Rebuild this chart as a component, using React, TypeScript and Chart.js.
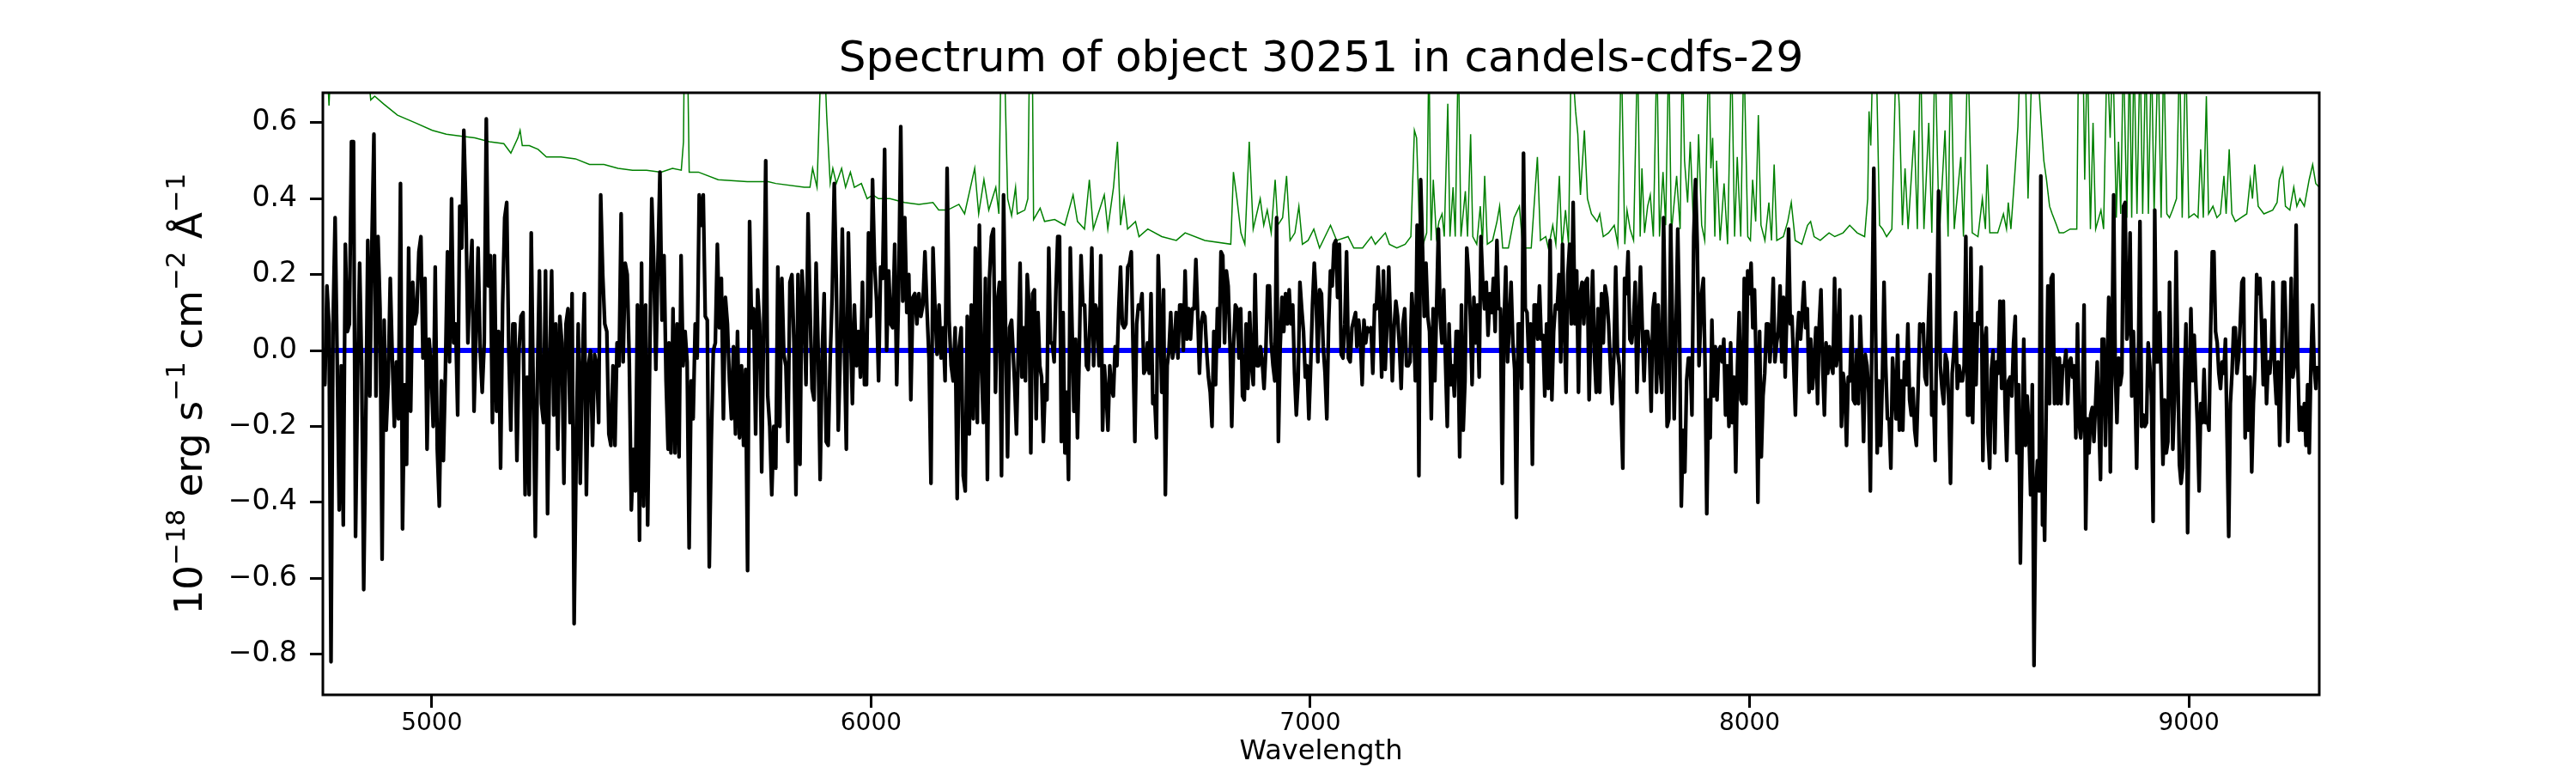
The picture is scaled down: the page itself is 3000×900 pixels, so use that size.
import { useEffect, useRef } from "react"
import { Chart, registerables } from "chart.js"

Chart.register(...registerables)

const TITLE = "Spectrum of object 30251 in candels-cdfs-29"
const X_LABEL = "Wavelength"
// [text, superscript?]
const Y_LABEL_PARTS: [string, boolean][] = [
  ["10", false], ["−18", true], [" erg s", false], ["−1", true],
  [" cm", false], ["−2", true], [" Å", false], ["−1", true],
]

const X_MIN = 4752
const X_MAX = 9297
const Y_MIN = -0.907
const Y_MAX = 0.679
const X_TICKS = [5000, 6000, 7000, 8000, 9000]
const Y_TICKS = [-0.8, -0.6, -0.4, -0.2, 0, 0.2, 0.4, 0.6]

// observed flux, read in six stretches of wavelength (evenly sampled inside each)
const FLUX_RANGES = [[4752, 5538], [5540, 6320], [6327, 7103], [7106, 7885], [7891, 8667], [8668, 9293]]

const FLUX_1 = [-0.02, -0.09, 0.17, 0.07, -0.82, 0.07, 0.35, -0.02, -0.42, -0.04, -0.46, 0.28, 0.05, 0.07, 0.55, 0.55, -0.49, -0.08, 0.23, -0.04, -0.63, -0.20, 0.29, -0.12, 0.28, 0.57, -0.12, 0.30, 0.11, -0.55, 0.08, -0.21, -0.08, 0.19, -0.02, -0.20, -0.03, -0.18, 0.44, -0.47, -0.09, -0.30, 0.27, -0.16, 0.18, 0.07, 0.10, 0.26, 0.30, -0.02, 0.19, -0.26, 0.03, -0.04, -0.20, 0.22, -0.26, -0.41, -0.08, -0.29, -0.05, 0.26, -0.03, 0.40, 0.02, 0.07, -0.17, 0.38, 0.27, 0.58, 0.38, 0.02, 0.18, 0.29, -0.16, 0.05, 0.27, 0.00, -0.11, 0.02, 0.61, 0.17, 0.25, -0.19, 0.25, -0.16, 0.05, -0.31, 0.12, 0.35, 0.39, 0.00, -0.21, 0.07, 0.07, -0.29, 0.00, 0.09, 0.10, -0.38, -0.07, -0.38, 0.31, -0.10, -0.49, -0.08, 0.21, -0.14, -0.19, 0.21, -0.43, -0.04, 0.21, -0.17, 0.07, -0.26, 0.09, 0.02, -0.35, 0.07, 0.11, -0.19, 0.15, -0.72, -0.28, 0.07, -0.35, -0.04, 0.15, -0.38, -0.04, 0.00, -0.25, -0.01, -0.04, -0.19, 0.41, 0.20, 0.07, 0.05, -0.22, -0.25, -0.04, -0.25, 0.02, -0.04, 0.36, -0.03, 0.23, 0.20, -0.03, -0.42, -0.26, -0.37, 0.12, -0.50, 0.23, -0.41, 0.12, -0.46, -0.03, 0.40, 0.23, -0.05, 0.23, 0.47, 0.08, 0.25, -0.08, -0.26]

const FLUX_2 = [0.02, -0.27, 0.11, -0.27, 0.07, -0.28, 0.25, -0.04, 0.05, -0.03, -0.52, -0.08, -0.18, 0.07, -0.02, 0.41, 0.33, 0.41, 0.09, 0.08, -0.57, -0.24, 0.00, 0.02, 0.28, 0.06, 0.19, -0.18, 0.14, 0.07, -0.08, -0.18, 0.01, -0.22, 0.05, -0.23, -0.04, -0.25, -0.05, -0.58, 0.34, 0.06, 0.11, -0.22, 0.16, 0.07, -0.32, 0.07, 0.50, -0.12, -0.20, -0.38, -0.20, -0.31, 0.22, -0.20, 0.19, -0.01, -0.04, -0.24, 0.18, 0.20, 0.02, -0.38, 0.20, -0.30, 0.21, 0.11, -0.09, 0.36, 0.11, -0.10, -0.13, 0.23, 0.01, -0.34, -0.01, 0.15, -0.24, -0.25, -0.02, 0.15, 0.44, 0.19, -0.21, -0.01, 0.32, 0.02, -0.26, 0.31, 0.07, -0.14, 0.12, -0.04, 0.05, -0.07, 0.18, -0.09, -0.09, 0.31, 0.09, 0.45, 0.23, 0.13, -0.08, 0.22, 0.19, 0.53, 0.00, 0.21, 0.07, 0.06, 0.28, -0.09, 0.17, 0.59, 0.13, 0.35, 0.10, 0.20, -0.13, 0.14, 0.15, 0.07, 0.15, 0.09, 0.12, 0.26, 0.11, -0.02, -0.35, 0.27, 0.11, -0.01, 0.12, -0.02, 0.06, -0.08, 0.48, 0.08, -0.04, -0.08, 0.06, -0.39, 0.01, 0.06, -0.33, -0.37, 0.09, -0.22, 0.12, -0.18, 0.27, -0.19, 0.33, -0.04, -0.19, 0.19, -0.34, 0.19, 0.30, 0.32, -0.11, 0.13, 0.18, -0.33, 0.41, 0.06, -0.28, 0.06, 0.08]

const FLUX_3 = [-0.09, -0.22, 0.00, 0.23, -0.07, 0.06, -0.08, 0.20, 0.12, -0.27, 0.15, 0.16, -0.18, 0.10, -0.04, -0.07, -0.24, -0.09, -0.13, 0.27, 0.02, 0.02, -0.03, 0.16, 0.30, 0.30, -0.24, 0.10, -0.27, -0.11, -0.34, 0.27, 0.06, -0.16, 0.03, -0.23, -0.01, 0.25, 0.12, 0.12, -0.04, -0.05, 0.08, 0.27, -0.04, 0.12, 0.10, -0.04, 0.25, -0.21, -0.04, -0.11, -0.21, -0.04, -0.10, -0.12, 0.01, -0.04, 0.11, 0.22, 0.07, 0.06, 0.07, 0.22, 0.23, 0.26, 0.00, -0.24, 0.07, 0.12, 0.11, 0.15, -0.06, -0.05, 0.02, -0.06, 0.15, -0.14, -0.12, -0.23, 0.25, 0.09, -0.11, 0.16, -0.38, -0.04, 0.00, 0.10, -0.02, 0.01, 0.10, -0.02, 0.12, 0.12, 0.00, 0.21, 0.03, 0.11, 0.03, 0.11, 0.11, 0.24, 0.10, -0.06, 0.07, 0.10, 0.09, 0.00, -0.07, -0.11, -0.20, 0.05, -0.09, 0.11, 0.01, 0.26, 0.25, 0.02, 0.21, 0.17, 0.02, -0.20, 0.01, 0.12, 0.11, -0.02, 0.11, -0.12, -0.13, 0.07, -0.10, 0.10, -0.04, -0.09, 0.20, -0.04, -0.04, 0.01, -0.03, -0.10, 0.00, 0.17, 0.17, 0.02, -0.04, -0.08, 0.35, -0.24, 0.01, 0.14, 0.05, 0.15, 0.07, 0.16, 0.07, 0.12, -0.06, -0.17, -0.08, 0.18, 0.11, 0.05, -0.07, -0.04, -0.18, -0.04, 0.12, 0.23, 0.14, -0.03, 0.16, 0.15, 0.01, -0.06, -0.18, 0.07, 0.21, 0.17, 0.28, 0.29, 0.14, 0.28, -0.01, -0.02, 0.07, 0.26, -0.02, -0.03, 0.06, 0.08, 0.10]

const FLUX_4 = [0.01, 0.08, 0.03, -0.09, 0.08, 0.02, 0.06, 0.05, 0.06, -0.06, 0.12, 0.11, 0.22, 0.10, -0.07, 0.21, -0.05, 0.07, 0.22, 0.07, -0.08, 0.06, 0.13, 0.09, 0.01, -0.10, 0.07, 0.11, -0.04, -0.04, -0.03, 0.15, 0.07, -0.08, 0.33, -0.33, 0.45, 0.28, 0.09, 0.23, 0.09, 0.05, -0.18, 0.11, -0.08, 0.12, 0.32, 0.09, 0.02, 0.16, -0.03, -0.20, 0.07, -0.09, -0.04, -0.12, 0.05, 0.05, -0.28, 0.12, -0.21, -0.08, 0.27, 0.20, 0.09, -0.09, 0.14, 0.02, 0.12, -0.07, 0.30, 0.18, 0.11, 0.18, 0.04, 0.15, 0.10, 0.19, 0.05, 0.29, 0.11, 0.11, -0.35, 0.07, 0.22, -0.03, 0.07, 0.18, 0.02, -0.05, -0.44, 0.07, 0.07, -0.10, 0.52, 0.11, 0.10, -0.03, 0.07, -0.30, 0.12, 0.12, 0.03, 0.17, 0.03, 0.04, -0.12, 0.07, -0.10, 0.29, -0.13, 0.05, 0.12, 0.11, 0.20, -0.03, 0.28, 0.07, -0.11, 0.20, 0.28, 0.07, 0.39, 0.07, 0.21, -0.11, 0.15, 0.18, 0.07, 0.18, 0.19, -0.13, 0.07, 0.21, -0.01, -0.11, 0.11, -0.11, 0.15, 0.02, 0.17, 0.14, 0.07, -0.04, -0.14, -0.01, 0.22, 0.00, -0.04, -0.15, -0.31, 0.19, 0.15, 0.26, 0.03, 0.02, 0.07, 0.18, -0.11, 0.07, 0.22, 0.06, -0.08, 0.05, 0.05, 0.01, -0.16, 0.11, 0.15, -0.11, 0.12, -0.04, -0.11, 0.35, 0.07, -0.20, -0.18, 0.33, 0.08, -0.18, 0.05, 0.32, 0.07, -0.41, -0.21, -0.32, -0.08, -0.02, -0.02, -0.17, 0.30, 0.45, 0.28, -0.04]

const FLUX_5 = [0.15, 0.19, -0.04, -0.43, -0.13, -0.23, 0.08, -0.12, 0.01, -0.13, 0.00, 0.01, -0.03, 0.03, -0.17, -0.04, -0.20, 0.02, -0.19, -0.07, -0.32, -0.04, 0.10, -0.13, -0.14, 0.19, -0.14, 0.21, 0.15, 0.23, 0.06, 0.16, -0.04, -0.40, 0.05, -0.28, -0.12, -0.06, 0.07, 0.07, -0.03, 0.05, 0.19, -0.03, 0.02, 0.05, 0.17, -0.03, 0.14, -0.07, 0.11, 0.32, 0.07, 0.09, -0.04, -0.17, 0.03, 0.10, 0.03, 0.10, 0.18, 0.06, 0.11, -0.11, 0.03, -0.10, -0.04, 0.06, -0.14, 0.07, 0.16, -0.04, -0.17, 0.02, -0.06, 0.01, -0.04, -0.06, 0.19, -0.04, 0.00, 0.16, -0.20, -0.06, -0.10, -0.25, -0.07, -0.08, 0.09, -0.13, -0.14, 0.00, -0.14, 0.09, -0.04, -0.24, -0.01, -0.04, -0.11, -0.37, 0.11, 0.48, 0.07, -0.27, -0.08, -0.25, -0.08, 0.18, -0.04, -0.18, -0.18, -0.31, -0.02, -0.10, -0.18, 0.04, -0.21, -0.08, -0.21, -0.03, -0.09, 0.07, -0.13, -0.17, -0.10, -0.21, -0.25, -0.10, 0.07, 0.05, 0.07, -0.07, -0.09, 0.07, 0.20, -0.17, -0.11, -0.29, 0.11, 0.42, -0.04, -0.10, -0.14, -0.01, -0.03, -0.14, -0.35, -0.06, 0.00, 0.10, -0.10, -0.04, -0.08, -0.08, -0.04, 0.30, -0.17, -0.17, 0.27, -0.19, 0.07, -0.09, 0.10, 0.07, 0.22, -0.29, 0.02, 0.06, -0.22, -0.31, -0.05, 0.00, -0.27, -0.03, -0.06, 0.13, -0.10, 0.13, -0.14, -0.29, -0.08, -0.07, -0.12, 0.02, 0.09, -0.27, -0.09, -0.56, -0.24, 0.03, -0.25, -0.12, -0.21, -0.38, -0.09, -0.83, -0.38, -0.29, -0.37, 0.46, -0.46]

const FLUX_6 = [-0.25, -0.50, -0.14, 0.17, -0.14, 0.19, 0.20, -0.14, -0.02, -0.14, -0.02, -0.14, -0.04, -0.04, 0.00, -0.14, -0.03, -0.02, -0.07, -0.04, -0.23, 0.07, -0.19, -0.23, -0.17, 0.12, -0.47, -0.18, -0.27, -0.17, -0.15, -0.24, -0.14, -0.03, -0.18, -0.34, 0.03, 0.03, -0.25, -0.06, 0.14, -0.32, 0.00, 0.41, -0.06, -0.19, -0.02, -0.09, -0.06, 0.38, 0.39, 0.03, 0.06, 0.31, -0.12, 0.05, -0.10, -0.31, -0.04, 0.34, -0.20, -0.17, -0.20, -0.19, 0.02, -0.04, -0.12, -0.45, 0.37, -0.03, -0.03, 0.10, -0.10, -0.30, -0.13, -0.27, -0.24, 0.18, -0.04, -0.26, -0.13, 0.26, -0.04, -0.30, -0.35, -0.31, -0.09, 0.07, -0.48, -0.10, 0.11, -0.08, 0.04, -0.09, -0.20, -0.37, -0.14, -0.19, -0.05, -0.19, -0.18, -0.21, 0.05, 0.26, 0.26, 0.05, 0.02, -0.06, -0.10, -0.03, -0.06, 0.03, -0.23, -0.49, -0.14, -0.06, 0.06, 0.06, -0.06, -0.02, 0.07, 0.18, 0.19, -0.23, -0.07, -0.21, -0.07, -0.32, -0.14, -0.05, 0.20, 0.15, 0.19, 0.07, -0.09, 0.08, -0.14, -0.03, -0.06, 0.00, 0.18, -0.06, -0.14, -0.03, -0.25, -0.07, 0.18, 0.18, 0.03, -0.24, -0.05, 0.19, -0.07, -0.04, 0.33, -0.03, -0.21, -0.15, -0.21, -0.14, -0.25, -0.09, -0.27, -0.04, 0.12, -0.04, -0.10, -0.04]

const FLUX_SEGMENTS = [FLUX_1, FLUX_2, FLUX_3, FLUX_4, FLUX_5, FLUX_6]

// noise / sky spectrum (green); 0.8 marks sky lines that run off the top
const NOISE_WAVE = [4752, 4762, 4766, 4770, 4854, 4861, 4870, 4890, 4922, 4962, 5001, 5033, 5066, 5098, 5131, 5164, 5180, 5196, 5201, 5206, 5222, 5242, 5261, 5294, 5327, 5359, 5392, 5424, 5457, 5489, 5522, 5548, 5568, 5573, 5575, 5582, 5586, 5607, 5652, 5718, 5766, 5783, 5848, 5861, 5867, 5877, 5887, 5893, 5899, 5907, 5913, 5921, 5933, 5942, 5953, 5962, 5978, 5991, 6004, 6017, 6043, 6076, 6109, 6141, 6154, 6174, 6200, 6213, 6236, 6245, 6257, 6268, 6284, 6291, 6296, 6303, 6311, 6320, 6329, 6333, 6350, 6357, 6361, 6367, 6370, 6385, 6395, 6418, 6441, 6460, 6470, 6486, 6497, 6506, 6531, 6539, 6552, 6561, 6568, 6576, 6584, 6602, 6610, 6630, 6662, 6695, 6715, 6760, 6819, 6825, 6833, 6842, 6851, 6861, 6870, 6886, 6894, 6902, 6911, 6920, 6926, 6937, 6946, 6954, 6965, 6974, 6982, 6995, 7008, 7021, 7046, 7060, 7086, 7099, 7119, 7139, 7148, 7171, 7180, 7197, 7216, 7229, 7237, 7242, 7248, 7257, 7265, 7270, 7275, 7280, 7287, 7293, 7300, 7305, 7313, 7318, 7325, 7330, 7337, 7343, 7353, 7358, 7365, 7370, 7379, 7387, 7392, 7397, 7403, 7415, 7425, 7431, 7438, 7451, 7464, 7476, 7484, 7503, 7517, 7524, 7536, 7542, 7552, 7559, 7567, 7573, 7581, 7588, 7594, 7604, 7609, 7615, 7624, 7631, 7640, 7653, 7659, 7667, 7679, 7692, 7700, 7708, 7716, 7721, 7728, 7736, 7745, 7751, 7755, 7761, 7768, 7774, 7781, 7789, 7795, 7803, 7809, 7816, 7822, 7834, 7842, 7847, 7852, 7859, 7865, 7872, 7878, 7884, 7891, 7898, 7907, 7912, 7916, 7921, 7925, 7933, 7942, 7950, 7959, 7966, 7972, 7980, 7987, 7996, 8002, 8007, 8014, 8020, 8026, 8035, 8044, 8050, 8056, 8062, 8077, 8087, 8095, 8104, 8119, 8132, 8139, 8147, 8161, 8181, 8194, 8213, 8228, 8245, 8262, 8269, 8272, 8276, 8281, 8288, 8296, 8303, 8312, 8324, 8334, 8341, 8348, 8354, 8361, 8375, 8382, 8389, 8397, 8408, 8415, 8422, 8432, 8445, 8452, 8458, 8466, 8481, 8487, 8497, 8507, 8520, 8530, 8537, 8541, 8547, 8565, 8578, 8585, 8589, 8595, 8603, 8611, 8617, 8627, 8634, 8644, 8653, 8664, 8670, 8676, 8683, 8689, 8699, 8705, 8715, 8730, 8745, 8749, 8759, 8763, 8769, 8776, 8782, 8788, 8800, 8806, 8814, 8821, 8827, 8835, 8840, 8845, 8851, 8859, 8865, 8870, 8875, 8882, 8889, 8895, 8902, 8908, 8915, 8921, 8930, 8937, 8943, 8950, 8956, 8963, 8972, 8979, 8985, 8993, 9000, 9012, 9021, 9027, 9033, 9040, 9045, 9055, 9064, 9072, 9080, 9085, 9092, 9098, 9106, 9119, 9132, 9140, 9145, 9150, 9158, 9171, 9191, 9201, 9206, 9214, 9220, 9230, 9239, 9246, 9253, 9263, 9274, 9282, 9289, 9297]

const NOISE_FLUX = [0.75, 0.75, 0.645, 0.75, 0.75, 0.66, 0.67, 0.65, 0.62, 0.60, 0.58, 0.57, 0.565, 0.56, 0.55, 0.545, 0.52, 0.56, 0.58, 0.54, 0.54, 0.53, 0.51, 0.51, 0.505, 0.49, 0.49, 0.48, 0.475, 0.475, 0.47, 0.48, 0.475, 0.55, 0.8, 0.8, 0.47, 0.47, 0.45, 0.445, 0.445, 0.44, 0.43, 0.43, 0.48, 0.43, 0.8, 0.8, 0.62, 0.44, 0.48, 0.44, 0.48, 0.43, 0.47, 0.43, 0.44, 0.40, 0.41, 0.40, 0.40, 0.39, 0.385, 0.39, 0.37, 0.37, 0.385, 0.36, 0.48, 0.36, 0.45, 0.37, 0.43, 0.36, 0.8, 0.8, 0.40, 0.355, 0.43, 0.36, 0.37, 0.40, 0.8, 0.8, 0.345, 0.375, 0.34, 0.345, 0.33, 0.41, 0.34, 0.32, 0.45, 0.32, 0.41, 0.32, 0.43, 0.55, 0.33, 0.40, 0.32, 0.34, 0.30, 0.32, 0.30, 0.29, 0.31, 0.29, 0.28, 0.47, 0.40, 0.31, 0.28, 0.55, 0.32, 0.40, 0.33, 0.37, 0.31, 0.45, 0.33, 0.35, 0.46, 0.29, 0.31, 0.38, 0.28, 0.29, 0.32, 0.27, 0.33, 0.29, 0.30, 0.27, 0.27, 0.30, 0.28, 0.31, 0.28, 0.27, 0.28, 0.30, 0.58, 0.56, 0.34, 0.28, 0.31, 0.8, 0.29, 0.45, 0.30, 0.34, 0.36, 0.30, 0.65, 0.30, 0.43, 0.30, 0.8, 0.30, 0.42, 0.30, 0.57, 0.30, 0.28, 0.38, 0.28, 0.46, 0.28, 0.29, 0.34, 0.38, 0.27, 0.27, 0.35, 0.38, 0.27, 0.27, 0.51, 0.29, 0.30, 0.27, 0.33, 0.28, 0.46, 0.27, 0.37, 0.28, 0.8, 0.63, 0.57, 0.41, 0.58, 0.40, 0.36, 0.34, 0.36, 0.30, 0.31, 0.33, 0.28, 0.8, 0.28, 0.37, 0.32, 0.29, 0.8, 0.30, 0.48, 0.31, 0.38, 0.41, 0.30, 0.8, 0.30, 0.47, 0.33, 0.8, 0.31, 0.46, 0.32, 0.8, 0.50, 0.39, 0.55, 0.34, 0.31, 0.57, 0.33, 0.29, 0.8, 0.48, 0.56, 0.30, 0.50, 0.29, 0.44, 0.28, 0.8, 0.30, 0.51, 0.30, 0.8, 0.30, 0.29, 0.45, 0.34, 0.62, 0.33, 0.29, 0.39, 0.29, 0.49, 0.29, 0.30, 0.34, 0.39, 0.29, 0.28, 0.33, 0.34, 0.30, 0.29, 0.31, 0.30, 0.31, 0.33, 0.31, 0.30, 0.40, 0.63, 0.54, 0.8, 0.8, 0.33, 0.32, 0.30, 0.32, 0.8, 0.64, 0.33, 0.48, 0.32, 0.58, 0.32, 0.8, 0.32, 0.60, 0.31, 0.8, 0.30, 0.58, 0.30, 0.8, 0.32, 0.51, 0.30, 0.8, 0.31, 0.30, 0.40, 0.32, 0.49, 0.31, 0.31, 0.36, 0.32, 0.39, 0.32, 0.45, 0.59, 0.8, 0.8, 0.40, 0.8, 0.8, 0.60, 0.50, 0.45, 0.38, 0.36, 0.33, 0.31, 0.31, 0.32, 0.32, 0.8, 0.8, 0.45, 0.8, 0.32, 0.60, 0.32, 0.37, 0.32, 0.8, 0.56, 0.8, 0.35, 0.55, 0.36, 0.8, 0.35, 0.8, 0.35, 0.8, 0.36, 0.8, 0.36, 0.8, 0.36, 0.8, 0.36, 0.8, 0.35, 0.8, 0.36, 0.35, 0.37, 0.40, 0.8, 0.35, 0.8, 0.35, 0.36, 0.35, 0.53, 0.35, 0.67, 0.36, 0.38, 0.35, 0.36, 0.46, 0.36, 0.53, 0.36, 0.34, 0.35, 0.36, 0.45, 0.40, 0.49, 0.38, 0.36, 0.37, 0.39, 0.45, 0.48, 0.38, 0.37, 0.43, 0.38, 0.40, 0.38, 0.45, 0.49, 0.44, 0.43]

// model continuum (blue)
const MODEL_WAVE = [4752, 9297]
const MODEL_FLUX = [0, 0]

const FONT = '"DejaVu Sans", "Noto Sans", sans-serif'

function fluxPoints() {
  const pts: { x: number; y: number }[] = []
  FLUX_SEGMENTS.forEach((seg, s) => {
    const [a, b] = FLUX_RANGES[s]
    seg.forEach((v, i) => pts.push({ x: a + (i * (b - a)) / (seg.length - 1), y: v }))
  })
  return pts
}

const frame = {
  id: "frame",
  afterDraw(chart: any) {
    const { ctx, chartArea: a } = chart
    const cx = (a.left + a.right) / 2
    ctx.save()
    ctx.strokeStyle = "#000"
    ctx.lineWidth = 3
    ctx.strokeRect(a.left, a.top, a.right - a.left, a.bottom - a.top)

    ctx.fillStyle = "#000"
    ctx.textAlign = "center"
    ctx.textBaseline = "alphabetic"
    ctx.font = `50px ${FONT}`
    ctx.fillText(TITLE, cx, a.top - 25)
    ctx.font = `32px ${FONT}`
    ctx.fillText(X_LABEL, cx, a.bottom + 75)

    // y label with superscripts, rotated
    const size = 45
    const supSize = Math.round(size * 0.7)
    ctx.translate(a.left - 141, (a.top + a.bottom) / 2)
    ctx.rotate(-Math.PI / 2)
    ctx.textAlign = "left"
    let total = 0
    const widths = Y_LABEL_PARTS.map(([t, sup]) => {
      ctx.font = `${sup ? supSize : size}px ${FONT}`
      const w = ctx.measureText(t).width
      total += w
      return w
    })
    let x = -total / 2
    Y_LABEL_PARTS.forEach(([t, sup], i) => {
      ctx.font = `${sup ? supSize : size}px ${FONT}`
      ctx.fillText(t, x, sup ? -20 : 0)
      x += widths[i]
    })
    ctx.restore()
  },
}

export default function App() {
  const canvasRef = useRef<HTMLCanvasElement>(null)

  useEffect(() => {
    document.body.style.margin = "0"
    if (!canvasRef.current) return

    const chart = new Chart(canvasRef.current, {
      type: "line",
      data: {
        datasets: [
          // first dataset is painted last, so the flux sits on top
          {
            data: fluxPoints(),
            borderColor: "#000000",
            borderWidth: 4.3,
            borderJoinStyle: "round",
            pointRadius: 0,
          },
          {
            data: MODEL_WAVE.map((x, i) => ({ x, y: MODEL_FLUX[i] })),
            borderColor: "#0000ff",
            borderWidth: 6,
            pointRadius: 0,
          },
          {
            data: NOISE_WAVE.map((x, i) => ({ x, y: NOISE_FLUX[i] })),
            borderColor: "#008000",
            borderWidth: 1.5,
            pointRadius: 0,
          },
        ],
      },
      options: {
        responsive: false,
        devicePixelRatio: 1,
        animation: false,
        events: [],
        layout: { padding: { top: 108, right: 299, left: 0, bottom: 0 } },
        plugins: { legend: { display: false }, tooltip: { enabled: false }, title: { display: false } },
        scales: {
          x: {
            type: "linear",
            min: X_MIN,
            max: X_MAX,
            afterFit: (s: any) => { s.height = 91 },
            afterBuildTicks: (s: any) => { s.ticks = X_TICKS.map((value) => ({ value })) },
            grid: { drawOnChartArea: false, tickLength: 15, tickWidth: 3, tickColor: "#000" },
            border: { display: false },
            ticks: {
              color: "#000",
              font: { family: FONT, size: 28 },
              padding: 2,
              maxRotation: 0,
              callback: (v: any) => String(v),
            },
          },
          y: {
            type: "linear",
            min: Y_MIN,
            max: Y_MAX,
            afterFit: (s: any) => { s.width = 376 },
            afterBuildTicks: (s: any) => { s.ticks = Y_TICKS.map((value) => ({ value })) },
            grid: { drawOnChartArea: false, tickLength: 15, tickWidth: 3, tickColor: "#000" },
            border: { display: false },
            ticks: {
              color: "#000",
              font: { family: FONT, size: 33 },
              padding: 15,
              callback: (v: any) => {
                const n = Number(v)
                const s = Math.abs(n).toFixed(1)
                return n < -1e-9 ? "−" + s : s
              },
            },
          },
        },
      },
      plugins: [frame],
    })

    return () => chart.destroy()
  }, [])

  return (
    <div style={{ width: 3000, height: 900, background: "#fff" }}>
      <canvas ref={canvasRef} width={3000} height={900} />
    </div>
  )
}
